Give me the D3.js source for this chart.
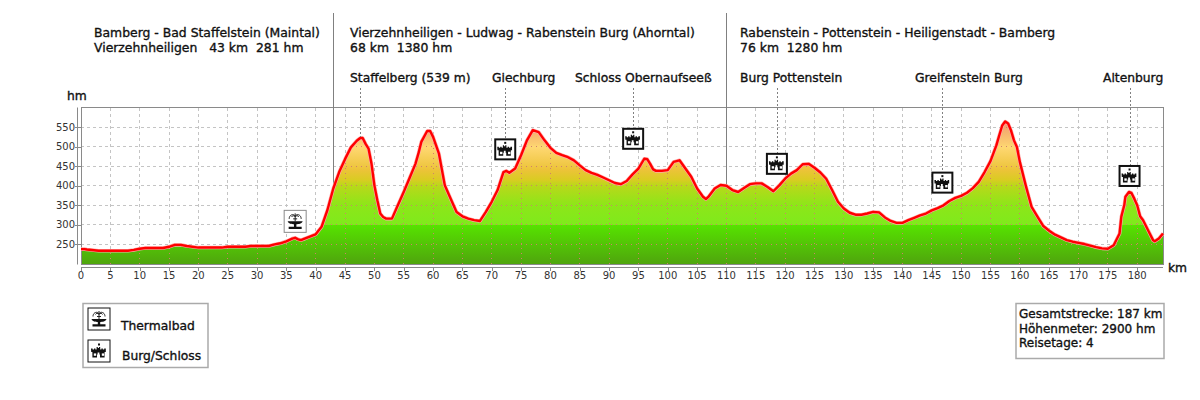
<!DOCTYPE html>
<html><head><meta charset="utf-8">
<script src="https://cdnjs.cloudflare.com/ajax/libs/d3/7.8.5/d3.min.js"></script>
<style>
html,body{margin:0;padding:0;background:#fff;}
svg{display:block;}
text{font-family:"DejaVu Sans",sans-serif;}
.lbl{font-size:12.3px;fill:#111;stroke:#111;stroke-width:.35px;white-space:pre;}
.sm{font-size:12px;}
.tick{fill:#333;font-family:"DejaVu Sans",sans-serif;font-size:10px;}
</style></head><body><svg id="c" width="1200" height="400"></svg>
<script>
const km=[0,0.6,1,3,8,9,10,11,14,15,16,17,18,20,24,25,28,29,32,33,34,35,36,36.5,37,37.5,38,39,40,41,42,43,44,45,46,47,47.6,48,48.5,49,49.5,50,50.5,51,51.5,52,53,54,55,56,57,57.5,58,59,59.5,60,61,62,63,64,65,66,67,68,69,70,71,72,72.5,73,74,75,76,77,78,79,80,81,82,83,84,85,86,87,88,89,90,91,92,93,94,95,96,96.5,97,97.5,98,99,100,101,102,103,104,105,106,106.5,107,108,109,110,111,112,113,114,115,116,117,118,119,120,121,122,123,124,125,126,127,128,129,130,131,132,133,134,135,136,137,138,139,140,141,142,143,144,145,146,147,148,149,150,151,152,153,154,155,156,156.5,157,157.5,158,158.5,159,159.5,160,161,162,163,164,165,166,167,168,169,170,171,172,173,174,175,176,177,177.3,177.8,178,178.6,179,179.5,180,180.5,181,182,182.7,183,183.7,184.4];
const hm=[238,238,237,234,234,236,239,241,241,244,249,249,246,242,242,244,244,246,246,250,253,258,265,267,263,261,264,270,276,295,338,393,435,468,498,515,522,522,507,495,457,401,363,329,320,316,316,350,384,420,456,482,512,540,540,525,482,401,367,333,322,316,312,310,333,359,389,435,438,433,444,478,516,542,537,516,497,484,478,473,465,452,440,433,428,421,414,407,404,412,429,444,469,468,456,442,438,438,440,461,465,444,423,393,372,366,373,393,402,400,389,384,394,404,406,406,397,386,401,418,431,440,455,456,446,434,418,389,359,342,331,326,326,329,333,332,319,310,305,305,312,318,324,329,337,343,350,361,369,374,382,394,410,435,463,503,529,554,564,559,541,516,499,461,401,346,321,297,285,275,268,261,257,254,251,247,243,240,239,248,278,321,350,372,384,382,367,350,322,312,282,261,258,265,278];
const yTicks=[250,300,350,400,450,500,550];
const xTicks=d3.range(0,185,5);
const dayKm=[43,110];
const dayText=[
 ["Bamberg - Bad Staffelstein (Maintal)","Vierzehnheiligen   43 km  281 hm"],
 ["Vierzehnheiligen - Ludwag - Rabenstein Burg (Ahorntal)","68 km  1380 hm"],
 ["Rabenstein - Pottenstein - Heiligenstadt - Bamberg","76 km  1280 hm"]];
const poiNames=["Staffelberg (539 m)","Giechburg","Schloss Obernaufseeß","Burg Pottenstein","Greifenstein Burg","Altenburg"];
const poiKm=[47.5,72.3,94.1,118.6,146.8,178.7];
const poiIconHm=[null,493,520,456,408,425];
const bathKm=[36.5],bathHm=[309];
const summary=["Gesamtstrecke: 187 km","Höhenmeter: 2900 hm","Reisetage: 4"];
const legendNames=["Thermalbad","Burg/Schloss"];

const svg=d3.select("#c");
const L=81,R=1163,T=107.5,B=264;
const x=d3.scaleLinear().domain([0,184.4]).range([L,R]);
const y=d3.scaleLinear().domain([200,600]).range([B,T]);
const pts=km.map((k,i)=>[k,hm[i]]);

const defs=svg.append("defs");
const g=defs.append("linearGradient").attr("id","fill").attr("gradientUnits","userSpaceOnUse")
 .attr("x1",0).attr("x2",0).attr("y1",y(200)).attr("y2",y(600));
[[200,"#4fa50d"],[300,"#56e300"],[300.01,"#7fea1c"],[350,"#8de619"],[400,"#b9d81a"],[400.01,"#b8d91b"],[415,"#d9cc22"],[440,"#ecc338"],[500,"#ffd873"],[505,"#fcd070"],[565,"#f0986f"],[600,"#f0986f"]]
 .forEach(s=>g.append("stop").attr("offset",(s[0]-200)/400).attr("stop-color",s[1]));
const area=d3.area().x(d=>x(d[0])).y0(B).y1(d=>y(d[1]));
const line=d3.line().x(d=>x(d[0])).y(d=>y(d[1]));
defs.append("clipPath").attr("id","under").append("path").attr("d",area(pts));

svg.append("rect").attr("x",L).attr("y",T).attr("width",R-L).attr("height",B-T).attr("fill","#fff");
function gridLines(sel){
 sel.selectAll("line.h").data(yTicks).join("line").attr("class","h").attr("x1",L).attr("x2",R).attr("y1",d=>y(d)).attr("y2",d=>y(d));
 sel.selectAll("line.v").data(xTicks.slice(1)).join("line").attr("class","v").attr("x1",d=>x(d)).attr("x2",d=>x(d)).attr("y1",T).attr("y2",B);
}
gridLines(svg.append("g").attr("stroke","#c4c4c4").attr("stroke-dasharray","3,3").attr("shape-rendering","crispEdges"));
svg.append("path").attr("d",area(pts)).attr("fill","url(#fill)");
gridLines(svg.append("g").attr("clip-path","url(#under)").attr("stroke","#d0806a").attr("stroke-dasharray","1,4").attr("shape-rendering","crispEdges"));

svg.append("rect").attr("x",L+.5).attr("y",T).attr("width",R-L).attr("height",B-T).attr("fill","none").attr("stroke","#8a8a8a").attr("shape-rendering","crispEdges");

svg.selectAll("line.day").data(dayKm).join("line").attr("class","day").attr("x1",d=>x(d)).attr("x2",d=>x(d)).attr("y1",13)
 .attr("y2",d=>y(hm[km.indexOf(d)])).attr("stroke","#808080").attr("shape-rendering","crispEdges");

svg.append("path").attr("d",line(pts)).attr("fill","none").attr("stroke","#ffaaaa").attr("stroke-width",3.6).attr("stroke-linejoin","round");
svg.append("path").attr("d",line(pts)).attr("fill","none").attr("stroke","#ff0000").attr("stroke-width",2.4).attr("stroke-linejoin","round");

const axC="#8a8a8a";
svg.append("line").attr("x1",77.5).attr("x2",77.5).attr("y1",T).attr("y2",B+.5).attr("stroke",axC);
svg.selectAll("line.yt").data(yTicks).join("line").attr("class","yt").attr("x1",75).attr("x2",L).attr("y1",d=>Math.round(y(d))+.5).attr("y2",d=>Math.round(y(d))+.5).attr("stroke",axC);
svg.selectAll("text.yl").data(yTicks).join("text").attr("class","yl tick").attr("x",75).attr("y",d=>y(d)+3.5).attr("text-anchor","end").text(d=>d);
svg.append("line").attr("x1",L).attr("x2",R).attr("y1",267.5).attr("y2",267.5).attr("stroke",axC);
svg.selectAll("line.xt").data(xTicks).join("line").attr("class","xt").attr("x1",d=>Math.round(x(d))+.5).attr("x2",d=>Math.round(x(d))+.5).attr("y1",267).attr("y2",271).attr("stroke",axC);
svg.selectAll("text.xl").data(xTicks).join("text").attr("class","xl tick").attr("x",d=>x(d)).attr("y",279).attr("text-anchor","middle").text(d=>d);
svg.append("text").attr("class","lbl").attr("x",67).attr("y",100).text("hm");
svg.append("text").attr("class","lbl").attr("x",1168).attr("y",272).text("km");

const dayX=[94,350,740];
dayText.forEach((t,i)=>t.forEach((s,j)=>svg.append("text").attr("class","lbl").style("font-size","12.4px").attr("x",dayX[i]).attr("y",[37,51.5][j]).text(s)));
const poiX=[350,492,575,740,915,1103];
poiNames.forEach((n,i)=>svg.append("text").attr("class","lbl").attr("x",poiX[i]).attr("y",82).text(n));

svg.selectAll("line.lead").data(poiKm).join("line").attr("class","lead").attr("x1",d=>Math.round(x(d))+.5).attr("x2",d=>Math.round(x(d))+.5)
 .attr("y1",88).attr("y2",(d,i)=>{const n=poiIconHm[i];return n===null?y(522)-1:y(n);})
 .attr("stroke","#808080").attr("stroke-dasharray","2,2");

function castle(gg,cx,cy,col,w,r){
 const p=gg.append("g").attr("transform",`translate(${cx},${cy})`);
 p.append("rect").attr("x",-r).attr("y",-r).attr("width",2*r).attr("height",2*r).attr("fill","#fff").attr("stroke",col).attr("stroke-width",w);
 p.append("rect").attr("x",-1).attr("y",-7.5).attr("width",2).attr("height",2).attr("fill","#111");
 p.append("path").attr("fill","#111").attr("d","M-8,-2.5h1.6v1h1.4v-1h1.4v1h1.2v-2.5h1.2v1h1.2v-1h1.2v2.5h1.2v-1h1.4v1h1.4v-1h1.6v3.5h-1.2v5.5h-4.6v-3h-.6v-2h-1.8v2h-.6v3h-4.6v-5.5h-1.2z");
 p.append("rect").attr("x",-5.2).attr("y",2.4).attr("width",2.4).attr("height",2.4).attr("fill","#fff");
 p.append("rect").attr("x",2.8).attr("y",2.4).attr("width",2.4).attr("height",2.4).attr("fill","#fff");
}
function fountain(gg,cx,cy,col,w){
 const p=gg.append("g").attr("transform",`translate(${cx},${cy})`);
 p.append("rect").attr("x",-11).attr("y",-11).attr("width",22).attr("height",22).attr("fill","#fff").attr("stroke",col).attr("stroke-width",w);
 p.append("path").attr("fill","none").attr("stroke","#222").attr("stroke-width",1).attr("d","M-6,-2.5C-6,-7 -1,-8 0,-5C1,-8 6,-7 6,-2.5M-3.5,-4.5C-3,-6 -1,-6 0,-4.5C1,-6 3,-6 3.5,-4.5M0,-8V0M-2,-2.5H2");
 p.append("path").attr("fill","#111").attr("d","M-7.5,0H7.5C7,2.4 3,3 1.2,3V5.3H6.5V7.6H-6.5V5.3H-1.2V3C-3,3 -7,2.4 -7.5,0Z");
}
poiKm.forEach((k,i)=>{ if(poiIconHm[i]!==null) castle(svg,x(k),y(poiIconHm[i]),"#111",2,10); });
fountain(svg,x(bathKm[0]),y(bathHm[0]),"#8a8a8a",1);

svg.append("rect").attr("x",83).attr("y",303.5).attr("width",125).attr("height",64).attr("fill","#fff").attr("stroke","#aaa").attr("stroke-width",1.5);
fountain(svg,99,319,"#111",1);
castle(svg,99,351,"#111",1,11);
svg.append("text").attr("class","lbl").attr("x",121).attr("y",330).text(legendNames[0]);
svg.append("text").attr("class","lbl").attr("x",122).attr("y",360).text(legendNames[1]);

svg.append("rect").attr("x",1016).attr("y",303.5).attr("width",148).attr("height",55).attr("fill","#fff").attr("stroke","#aaa").attr("stroke-width",1.5);
summary.forEach((s,i)=>svg.append("text").attr("class","lbl sm").attr("x",1019).attr("y",318+i*14.7).text(s));
</script></body></html>
